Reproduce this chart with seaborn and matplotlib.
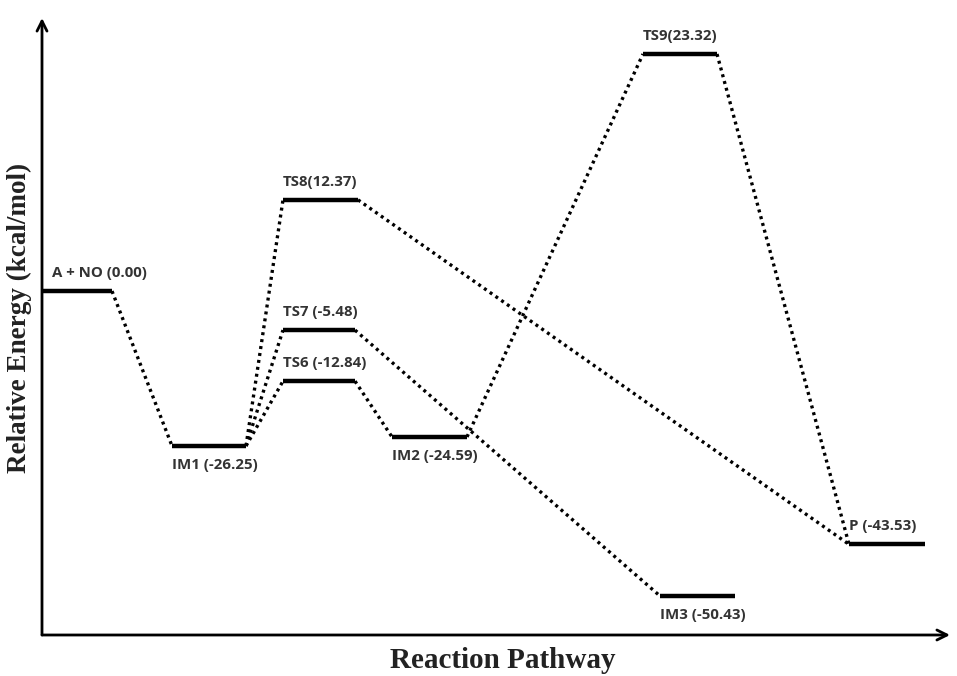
import matplotlib
matplotlib.use("Agg")
import matplotlib.pyplot as plt
import seaborn as sns
import pandas as pd

# ---- data ----
species = ["A + NO", "IM1", "TS8", "TS7", "TS6", "IM2", "TS9", "IM3", "P"]
energies = ["0.00", "-26.25", "12.37", "-5.48", "-12.84", "-24.59", "23.32", "-50.43", "-43.53"]
label_fmt = ["{} ({})", "{} ({})", "{}({})", "{} ({})", "{} ({})", "{} ({})", "{}({})", "{} ({})", "{} ({})"]
# schematic level heights as drawn in the diagram (not to scale with energies)
diagram_level = [0.0, -25.8, 15.2, -6.5, -15.0, -24.3, 39.5, -50.8, -42.2]
# horizontal slot of each level along the reaction pathway
slot_start = [0.0, 13.0, 24.1, 24.1, 24.1, 35.0, 60.1, 61.8, 80.7]
slot_end = [7.0, 20.4, 31.6, 31.3, 31.3, 42.5, 67.5, 69.3, 88.3]
connections = [("A + NO", "IM1"), ("IM1", "TS8"), ("IM1", "TS7"), ("IM1", "TS6"),
               ("TS6", "IM2"), ("IM2", "TS9"), ("TS9", "P"), ("TS8", "P"), ("TS7", "IM3")]
label_below = ["IM1", "IM2", "IM3"]

sns.set_theme(style="white")
plt.rcParams["font.family"] = ["Open Sans", "DejaVu Sans"]

W, H = 957, 676
fig = plt.figure(figsize=(W / 100, H / 100), dpi=100)
ax = fig.add_axes([42 / W, (H - 635) / H, (950 - 42) / W, (635 - 18) / H])
ax.set_xlim(0, 90.8)
ax.set_ylim(-57.3, 45.5)
for s in ax.spines.values():
    s.set_visible(False)
ax.set_xticks([])
ax.set_yticks([])
ax.patch.set_alpha(0)

idx = {n: i for i, n in enumerate(species)}

# levels
lev_rows = []
for i, n in enumerate(species):
    lev_rows.append({"seg": n, "x": slot_start[i], "y": diagram_level[i]})
    lev_rows.append({"seg": n, "x": slot_end[i], "y": diagram_level[i]})
lev = pd.DataFrame(lev_rows)

# connectors
con_rows = []
for k, (a, b) in enumerate(connections):
    ia, ib = idx[a], idx[b]
    con_rows.append({"seg": k, "x": slot_end[ia], "y": diagram_level[ia]})
    con_rows.append({"seg": k, "x": slot_start[ib], "y": diagram_level[ib]})
con = pd.DataFrame(con_rows)

sns.lineplot(data=con, x="x", y="y", units="seg", estimator=None, sort=False,
             ax=ax, color="black", lw=2.4, linestyle=(0, (0.9, 1.2)), legend=False)
sns.lineplot(data=lev, x="x", y="y", units="seg", estimator=None, sort=False,
             ax=ax, color="black", lw=3.2, solid_capstyle="butt", legend=False)
ax.set_xlabel("")
ax.set_ylabel("")

# labels
for i, n in enumerate(species):
    txt = label_fmt[i].format(n, energies[i])
    below = n in label_below
    dx = 7 if n == "A + NO" else 0
    ax.annotate(txt, (slot_start[i], diagram_level[i]),
                xytext=(dx, -9 if below else 8), textcoords="offset points",
                ha="left", va="top" if below else "bottom",
                fontsize=10.8, fontweight="bold", color="#333333")

# axes arrows
arrow = dict(arrowstyle="->,head_length=0.6,head_width=0.3", lw=2.0,
             color="black", shrinkA=0, shrinkB=0)
ax.annotate("", xy=(0, 45.5), xytext=(0, -57.3), annotation_clip=False, arrowprops=arrow)
ax.annotate("", xy=(90.8, -57.3), xytext=(0, -57.3), annotation_clip=False, arrowprops=arrow)

fig.text(19 / W, 1 - 318 / H, "Relative Energy (kcal/mol)", rotation=90,
         ha="center", va="center", fontsize=19.5, fontweight="bold",
         family="Liberation Serif", color="#222222")
fig.text(503 / W, 1 - 661 / H, "Reaction Pathway", ha="center", va="center",
         fontsize=21, fontweight="bold", family="Liberation Serif", color="#222222")

fig.savefig("out.png", dpi=100, facecolor="white")
